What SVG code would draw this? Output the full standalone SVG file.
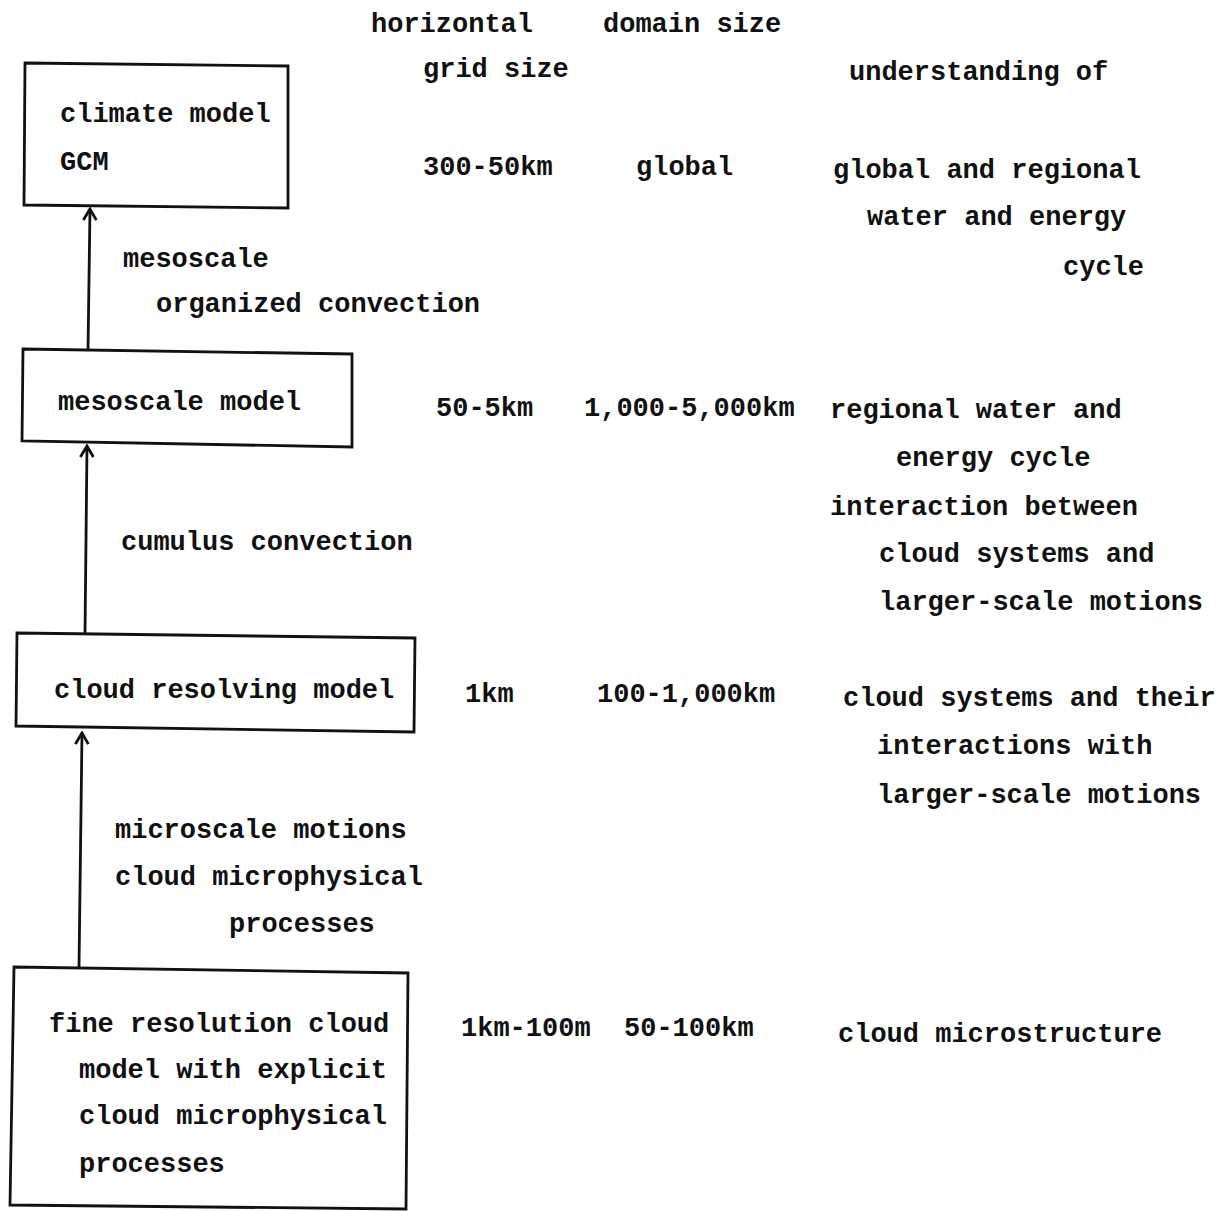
<svg xmlns="http://www.w3.org/2000/svg" width="1231" height="1211" viewBox="0 0 1231 1211">
  <style>
    text { font-family: "Liberation Mono", "DejaVu Sans Mono", monospace; font-size: 27px; font-weight: bold; fill: #111; }
    .box { fill: none; stroke: #111; stroke-width: 2.8; stroke-linejoin: miter; }
    .link { fill: none; stroke: #111; stroke-width: 2.8; }
  </style>
  <defs>
    <marker id="arrowOpen" viewBox="0 0 14 16" refX="12" refY="8" markerWidth="14" markerHeight="16" markerUnits="userSpaceOnUse" orient="auto">
      <path d="M1,1.5 L12,8 L1,14.5" fill="none" stroke="#111" stroke-width="2.8"/>
    </marker>
  </defs>
  <rect width="1231" height="1211" fill="#fff"/>

  <!-- column headings -->
  <g id="headings">
    <text x="371" y="32">horizontal</text>
    <text x="603" y="32">domain size</text>
    <text x="423" y="77">grid size</text>
    <text x="849" y="80">understanding of</text>
  </g>

  <!-- model boxes -->
  <g id="climate-model">
    <polygon class="box" points="25,63 288,66 288,208 24,205"/>
    <text x="60" y="122">climate model</text>
    <text x="60" y="170">GCM</text>
  </g>
  <g id="mesoscale-model">
    <polygon class="box" points="23,349 352,354 352,447 22,441"/>
    <text x="58" y="410">mesoscale model</text>
  </g>
  <g id="cloud-resolving-model">
    <polygon class="box" points="17,633 415,638 414,732 16,726"/>
    <text x="54" y="698">cloud resolving model</text>
  </g>
  <g id="fine-resolution-model">
    <polygon class="box" points="14,967 408,973 406,1209 10,1205"/>
    <text x="49" y="1032">fine resolution cloud</text>
    <text x="79" y="1078">model with explicit</text>
    <text x="79" y="1124">cloud microphysical</text>
    <text x="79" y="1172">processes</text>
  </g>

  <!-- upward links between scales -->
  <g id="connectors">
    <line class="link" x1="88" y1="350" x2="90" y2="209" marker-end="url(#arrowOpen)"/>
    <line class="link" x1="85" y1="634" x2="87" y2="446" marker-end="url(#arrowOpen)"/>
    <line class="link" x1="79" y1="968" x2="82" y2="733" marker-end="url(#arrowOpen)"/>
  </g>

  <!-- link labels -->
  <g id="link-labels">
    <text x="123" y="267">mesoscale</text>
    <text x="156" y="312">organized convection</text>
    <text x="121" y="550">cumulus convection</text>
    <text x="115" y="838">microscale motions</text>
    <text x="115" y="885">cloud microphysical</text>
    <text x="229" y="932">processes</text>
  </g>

  <!-- grid size / domain size / understanding columns -->
  <g id="row-climate">
    <text x="423" y="175">300-50km</text>
    <text x="636" y="175">global</text>
    <text x="833" y="178">global and regional</text>
    <text x="867" y="225">water and energy</text>
    <text x="1063" y="275">cycle</text>
  </g>
  <g id="row-mesoscale">
    <text x="436" y="416">50-5km</text>
    <text x="584" y="416">1,000-5,000km</text>
    <text x="830" y="418">regional water and</text>
    <text x="896" y="466">energy cycle</text>
    <text x="830" y="515">interaction between</text>
    <text x="879" y="562">cloud systems and</text>
    <text x="879" y="610">larger-scale motions</text>
  </g>
  <g id="row-cloud-resolving">
    <text x="465" y="702">1km</text>
    <text x="597" y="702">100-1,000km</text>
    <text x="843" y="706">cloud systems and their</text>
    <text x="877" y="754">interactions with</text>
    <text x="877" y="803">larger-scale motions</text>
  </g>
  <g id="row-fine-resolution">
    <text x="461" y="1036">1km-100m</text>
    <text x="624" y="1036">50-100km</text>
    <text x="838" y="1042">cloud microstructure</text>
  </g>
</svg>
